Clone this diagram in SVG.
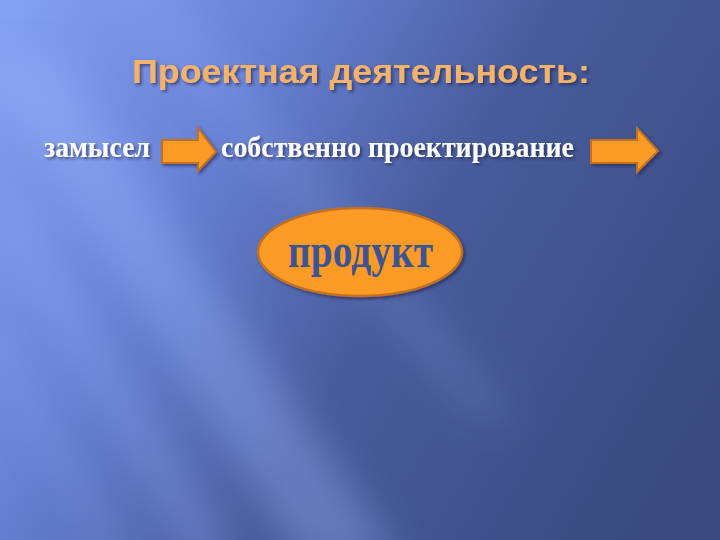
<svg xmlns="http://www.w3.org/2000/svg" width="720" height="540" viewBox="0 0 720 540">
<defs>
<linearGradient id="bg" x1="0" y1="0" x2="720" y2="420" gradientUnits="userSpaceOnUse">
<stop offset="0" stop-color="#86a2f2"/>
<stop offset="0.28" stop-color="#6a84d8"/>
<stop offset="0.58" stop-color="#485c9c"/>
<stop offset="1" stop-color="#384a7e"/>
</linearGradient>
<filter id="blur" x="-50%" y="-50%" width="200%" height="200%"><feGaussianBlur stdDeviation="18"/></filter>
<filter id="shadow" x="-10%" y="-20%" width="130%" height="150%">
<feDropShadow dx="2" dy="2" stdDeviation="1.5" flood-color="#1a2448" flood-opacity="0.6"/>
</filter>
<style>
.title{font-family:"Liberation Sans",Arial,sans-serif;font-weight:bold;font-size:33px;fill:#f4b36a;}
.lbl{font-family:"Liberation Serif","Times New Roman",serif;font-weight:bold;font-size:29px;fill:#ffffff;}
.prod{font-family:"Liberation Serif","Times New Roman",serif;font-weight:bold;font-size:48px;fill:#3d5494;}
.arr{fill:#fb9b26;stroke:#c27022;stroke-width:2;}
.ray{fill:#9fb8ff;}
</style>
</defs>
<rect width="720" height="540" fill="url(#bg)"/>
<g filter="url(#blur)">
<polygon class="ray" opacity="0.35" points="-20,60 60,60 400,560 300,560"/>
<polygon class="ray" opacity="0.25" points="-20,200 20,200 240,560 190,560"/>
<polygon class="ray" opacity="0.2" points="-20,330 0,330 130,560 100,560"/>
<polygon class="ray" opacity="0.15" points="100,-20 160,-20 520,420 470,420"/>
</g>
<g id="title"><text class="title" x="132" y="83" textLength="458" lengthAdjust="spacingAndGlyphs" filter="url(#shadow)">Проектная деятельность:</text></g>
<g id="zamysel"><text class="lbl" x="44" y="157" textLength="106" lengthAdjust="spacingAndGlyphs" filter="url(#shadow)">замысел</text></g>
<g id="proektirovanie"><text class="lbl" x="221" y="157" textLength="353" lengthAdjust="spacingAndGlyphs" filter="url(#shadow)">собственно проектирование</text></g>
<g id="connectors">
<polygon class="arr" filter="url(#shadow)" points="162,140 198,140 198,128 216,152 198,171 198,163 162,163"/>
<polygon class="arr" filter="url(#shadow)" points="591,140 637,140 637,128 658,151 637,172 637,163 591,163"/>
</g>
<g id="produkt">
<ellipse cx="360" cy="252" rx="102" ry="44" fill="#fb9b26" stroke="#c27022" stroke-width="2.5" filter="url(#shadow)"/>
<text class="prod" x="288" y="267" textLength="145" lengthAdjust="spacingAndGlyphs">продукт</text>
</g>
</svg>
